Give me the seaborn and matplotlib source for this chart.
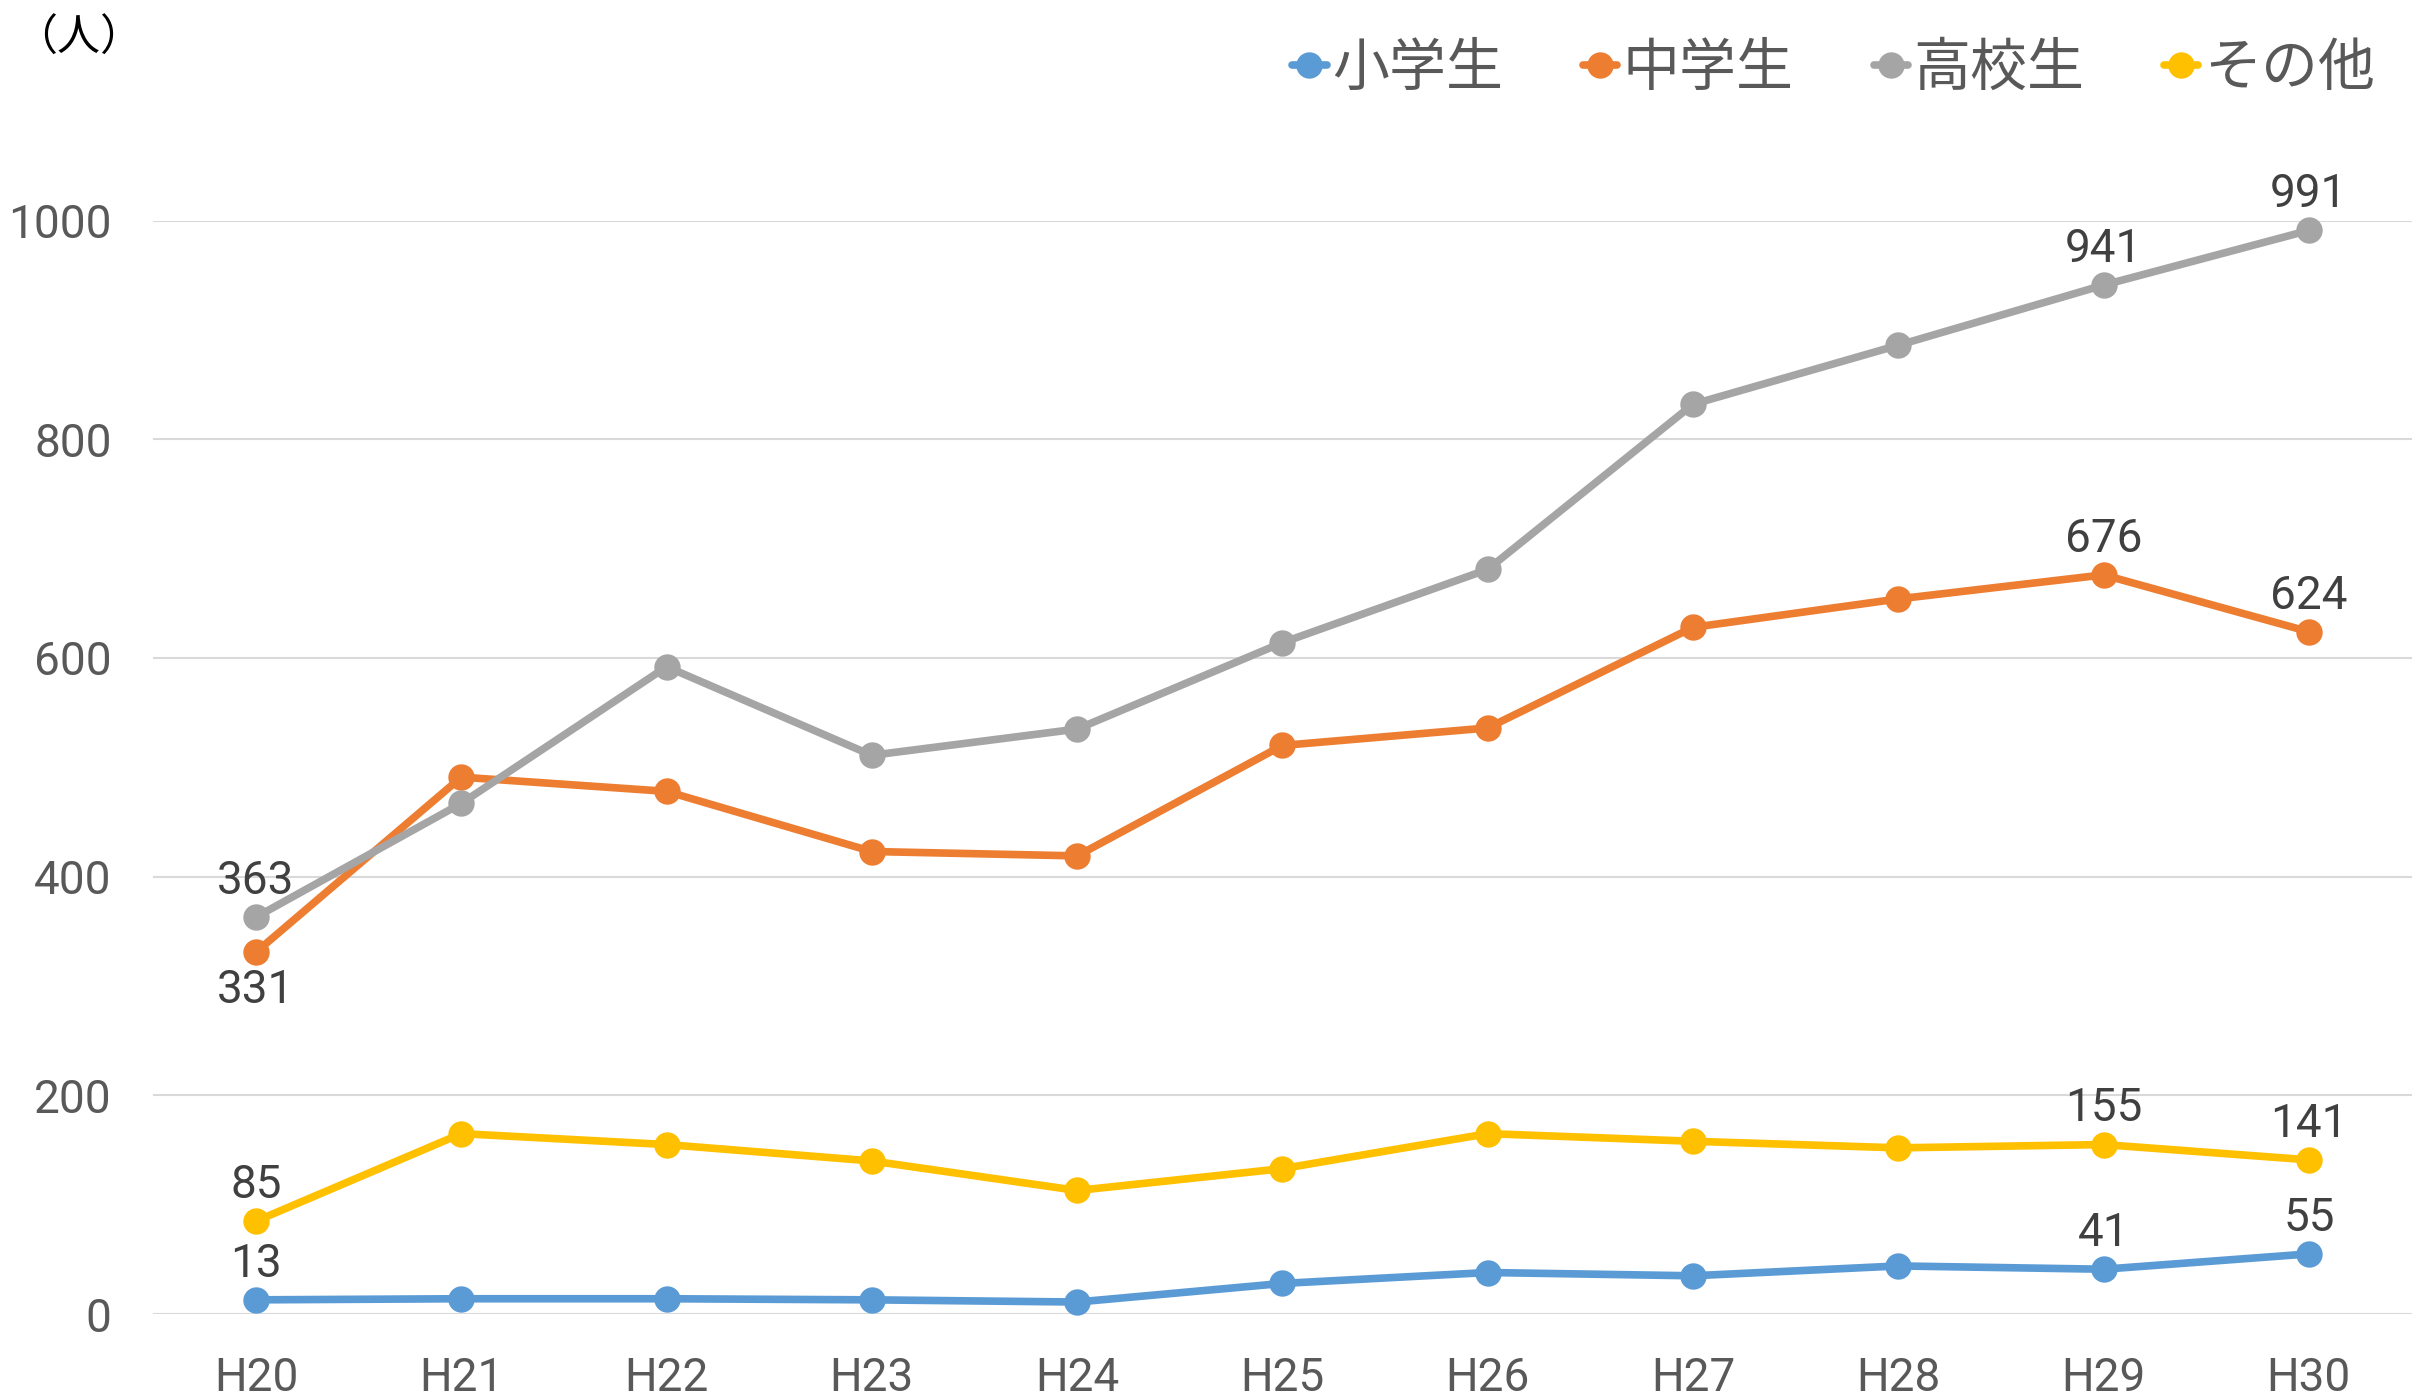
import pandas as pd
import matplotlib.pyplot as plt
import seaborn as sns

# data
years = ["H20", "H21", "H22", "H23", "H24", "H25", "H26", "H27", "H28", "H29", "H30"]
elementary = [13, 14, 14, 13, 11, 28, 38, 35, 44, 41, 55]
junior_high = [331, 491, 478, 423, 419, 520, 536, 628, 654, 676, 624]
high_school = [363, 467, 592, 511, 535, 614, 681, 832, 886, 941, 991]
others = [85, 165, 155, 140, 113, 133, 165, 158, 152, 155, 141]

series_names = ["小学生", "中学生", "高校生", "その他"]
series_values = [elementary, junior_high, high_school, others]
colors = ["#5B9BD5", "#ED7D31", "#A5A5A5", "#FFC000"]
yticks = [0, 200, 400, 600, 800, 1000]


def setup_plot_style():
    sns.set_theme(style="white")
    plt.rcParams['font.family'] = ['Roboto', 'Noto Sans CJK JP', 'DejaVu Sans']
    plt.rcParams['axes.unicode_minus'] = False


setup_plot_style()

rows = []
for name, vals in zip(series_names, series_values):
    for yr, v in zip(years, vals):
        rows.append({"year": yr, "value": v, "kind": name})
df = pd.DataFrame(rows)

fig = plt.figure(figsize=(24.19, 13.96), dpi=100)
ax = fig.add_axes([0.0634, 0.0587, 0.9335, 0.7833])

sns.lineplot(data=df, x="year", y="value", hue="kind", palette=colors,
             marker="o", markersize=19, markeredgewidth=0, linewidth=5.5,
             ax=ax, legend=True, clip_on=False, zorder=3)

ax.set_xlim(-0.5, len(years) - 0.5)
ax.set_ylim(0, 1000)
ax.set_yticks(yticks)
ax.yaxis.grid(True, color="#D9D9D9", linewidth=1.5)
ax.xaxis.grid(False)
for s in ax.spines.values():
    s.set_visible(False)
ax.tick_params(axis="both", length=0, labelsize=33, labelcolor="#595959")
ax.tick_params(axis="y", pad=30)
ax.tick_params(axis="x", pad=30)
ax.set_xlabel("")
ax.set_ylabel("")

# data labels: first point and last two points
label_style = dict(textcoords="offset points", ha="center", va="center",
                   fontsize=33, color="#404040")
for name, vals in zip(series_names, series_values):
    for i in [0, len(years) - 2, len(years) - 1]:
        if i == 0 and name == "中学生":
            off = -27
        else:
            off = 26
        ax.annotate(str(vals[i]), (i, vals[i]), xytext=(0, off), **label_style)

# legend along the top right
handles, labels = ax.get_legend_handles_labels()
ax.legend_.remove()
leg = fig.legend(handles, labels, loc="center right", bbox_to_anchor=(1.003, 0.951),
                 ncol=4, frameon=False, fontsize=41, handlelength=0.6,
                 handletextpad=0.1, columnspacing=1.4)
for t in leg.get_texts():
    t.set_color("#595959")
    t.set_family(['Noto Sans CJK JP', 'DejaVu Sans'])

fig.text(0.006, 0.988, "（人）", fontsize=31, color="black", va="top", ha="left",
         family=['Noto Sans CJK JP', 'DejaVu Sans'])

fig.savefig("out.png", dpi=100)
